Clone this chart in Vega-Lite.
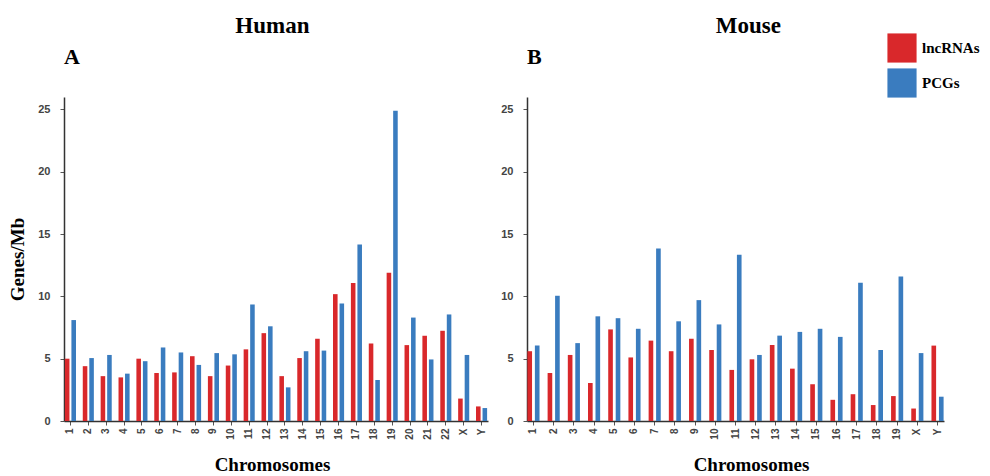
{
  "$schema": "https://vega.github.io/schema/vega-lite/v6.json",
  "padding": {"left": 8, "top": 15, "right": 0, "bottom": 0},
  "background": "white",
  "datasets": {
    "human": [
      {"chrom": "1", "type": "lncRNAs", "value": 5.0}, {"chrom": "1", "type": "PCGs", "value": 8.1},
      {"chrom": "2", "type": "lncRNAs", "value": 4.4}, {"chrom": "2", "type": "PCGs", "value": 5.05},
      {"chrom": "3", "type": "lncRNAs", "value": 3.6}, {"chrom": "3", "type": "PCGs", "value": 5.3},
      {"chrom": "4", "type": "lncRNAs", "value": 3.5}, {"chrom": "4", "type": "PCGs", "value": 3.8},
      {"chrom": "5", "type": "lncRNAs", "value": 5.0}, {"chrom": "5", "type": "PCGs", "value": 4.8},
      {"chrom": "6", "type": "lncRNAs", "value": 3.85}, {"chrom": "6", "type": "PCGs", "value": 5.9},
      {"chrom": "7", "type": "lncRNAs", "value": 3.9}, {"chrom": "7", "type": "PCGs", "value": 5.5},
      {"chrom": "8", "type": "lncRNAs", "value": 5.2}, {"chrom": "8", "type": "PCGs", "value": 4.5},
      {"chrom": "9", "type": "lncRNAs", "value": 3.6}, {"chrom": "9", "type": "PCGs", "value": 5.45},
      {"chrom": "10", "type": "lncRNAs", "value": 4.45}, {"chrom": "10", "type": "PCGs", "value": 5.35},
      {"chrom": "11", "type": "lncRNAs", "value": 5.75}, {"chrom": "11", "type": "PCGs", "value": 9.35},
      {"chrom": "12", "type": "lncRNAs", "value": 7.05}, {"chrom": "12", "type": "PCGs", "value": 7.6},
      {"chrom": "13", "type": "lncRNAs", "value": 3.6}, {"chrom": "13", "type": "PCGs", "value": 2.7},
      {"chrom": "14", "type": "lncRNAs", "value": 5.05}, {"chrom": "14", "type": "PCGs", "value": 5.6},
      {"chrom": "15", "type": "lncRNAs", "value": 6.6}, {"chrom": "15", "type": "PCGs", "value": 5.65},
      {"chrom": "16", "type": "lncRNAs", "value": 10.18}, {"chrom": "16", "type": "PCGs", "value": 9.43},
      {"chrom": "17", "type": "lncRNAs", "value": 11.08}, {"chrom": "17", "type": "PCGs", "value": 14.16},
      {"chrom": "18", "type": "lncRNAs", "value": 6.22}, {"chrom": "18", "type": "PCGs", "value": 3.29},
      {"chrom": "19", "type": "lncRNAs", "value": 11.9}, {"chrom": "19", "type": "PCGs", "value": 24.9},
      {"chrom": "20", "type": "lncRNAs", "value": 6.09}, {"chrom": "20", "type": "PCGs", "value": 8.3},
      {"chrom": "21", "type": "lncRNAs", "value": 6.84}, {"chrom": "21", "type": "PCGs", "value": 4.94},
      {"chrom": "22", "type": "lncRNAs", "value": 7.24}, {"chrom": "22", "type": "PCGs", "value": 8.55},
      {"chrom": "X", "type": "lncRNAs", "value": 1.8}, {"chrom": "X", "type": "PCGs", "value": 5.3},
      {"chrom": "Y", "type": "lncRNAs", "value": 1.17}, {"chrom": "Y", "type": "PCGs", "value": 1.04}
    ],
    "mouse": [
      {"chrom": "1", "type": "lncRNAs", "value": 5.6}, {"chrom": "1", "type": "PCGs", "value": 6.05},
      {"chrom": "2", "type": "lncRNAs", "value": 3.85}, {"chrom": "2", "type": "PCGs", "value": 10.05},
      {"chrom": "3", "type": "lncRNAs", "value": 5.3}, {"chrom": "3", "type": "PCGs", "value": 6.25},
      {"chrom": "4", "type": "lncRNAs", "value": 3.05}, {"chrom": "4", "type": "PCGs", "value": 8.4},
      {"chrom": "5", "type": "lncRNAs", "value": 7.35}, {"chrom": "5", "type": "PCGs", "value": 8.25},
      {"chrom": "6", "type": "lncRNAs", "value": 5.1}, {"chrom": "6", "type": "PCGs", "value": 7.4},
      {"chrom": "7", "type": "lncRNAs", "value": 6.45}, {"chrom": "7", "type": "PCGs", "value": 13.85},
      {"chrom": "8", "type": "lncRNAs", "value": 5.6}, {"chrom": "8", "type": "PCGs", "value": 8.0},
      {"chrom": "9", "type": "lncRNAs", "value": 6.6}, {"chrom": "9", "type": "PCGs", "value": 9.7},
      {"chrom": "10", "type": "lncRNAs", "value": 5.7}, {"chrom": "10", "type": "PCGs", "value": 7.75},
      {"chrom": "11", "type": "lncRNAs", "value": 4.1}, {"chrom": "11", "type": "PCGs", "value": 13.35},
      {"chrom": "12", "type": "lncRNAs", "value": 4.95}, {"chrom": "12", "type": "PCGs", "value": 5.3},
      {"chrom": "13", "type": "lncRNAs", "value": 6.1}, {"chrom": "13", "type": "PCGs", "value": 6.85},
      {"chrom": "14", "type": "lncRNAs", "value": 4.2}, {"chrom": "14", "type": "PCGs", "value": 7.15},
      {"chrom": "15", "type": "lncRNAs", "value": 2.95}, {"chrom": "15", "type": "PCGs", "value": 7.4},
      {"chrom": "16", "type": "lncRNAs", "value": 1.7}, {"chrom": "16", "type": "PCGs", "value": 6.75},
      {"chrom": "17", "type": "lncRNAs", "value": 2.15}, {"chrom": "17", "type": "PCGs", "value": 11.1},
      {"chrom": "18", "type": "lncRNAs", "value": 1.28}, {"chrom": "18", "type": "PCGs", "value": 5.7},
      {"chrom": "19", "type": "lncRNAs", "value": 2.0}, {"chrom": "19", "type": "PCGs", "value": 11.6},
      {"chrom": "X", "type": "lncRNAs", "value": 1.0}, {"chrom": "X", "type": "PCGs", "value": 5.45},
      {"chrom": "Y", "type": "lncRNAs", "value": 6.05}, {"chrom": "Y", "type": "PCGs", "value": 1.95}
    ]
  },
  "config": {
    "view": {"stroke": null},
    "axis": {
      "grid": false,
      "domainColor": "#333333",
      "domainWidth": 1.5,
      "tickColor": "#555555",
      "labelFont": "Liberation Sans",
      "labelFontWeight": "bold",
      "labelColor": "#444444",
      "titleFont": "Liberation Serif",
      "titleFontWeight": "bold",
      "titleFontSize": 19,
      "titleColor": "#000000"
    },
    "title": {"font": "Liberation Serif", "fontWeight": "bold", "fontSize": 23, "color": "#000000"},
    "concat": {"spacing": 12}
  },
  "resolve": {"scale": {"xOffset": "independent"}},
  "hconcat": [
    {
      "title": {"text": "Human", "anchor": "middle", "offset": 8, "dx": 24},
      "vconcat": [
        {
          "title": {"text": "A", "anchor": "start", "frame": "group", "offset": 28, "fontSize": 22},
          "width": 424,
          "height": 324,
          "data": {"name": "human"},
          "mark": {"type": "bar"},
          "encoding": {
            "x": {
              "field": "chrom", "type": "nominal",
              "sort": ["1","2","3","4","5","6","7","8","9","10","11","12","13","14","15","16","17","18","19","20","21","22","X","Y"],
              "scale": {"paddingInner": 0.38, "paddingOuter": 0.05},
              "axis": {"title": "Chromosomes", "labelAngle": -90, "labelFontSize": 10, "tickSize": 4, "labelPadding": 3, "titlePadding": 16, "titleX": 208}
            },
            "xOffset": {"field": "type", "sort": ["lncRNAs", "PCGs"], "scale": {"paddingInner": 0.3}},
            "y": {
              "field": "value", "type": "quantitative",
              "scale": {"domain": [0, 26], "nice": false},
              "axis": {"title": "Genes/Mb", "values": [0, 5, 10, 15, 20, 25], "labelFontSize": 11, "tickSize": 4, "labelPadding": 10, "titlePadding": 10}
            },
            "color": {
              "field": "type", "type": "nominal",
              "scale": {"domain": ["lncRNAs", "PCGs"], "range": ["#d9282b", "#3a7cbf"]},
              "legend": {
                "title": null, "orient": "none", "legendX": 823, "legendY": -64,
                "symbolType": "square", "symbolSize": 850, "symbolStrokeWidth": 0,
                "labelFont": "Liberation Serif", "labelFontWeight": "bold", "labelFontSize": 15, "labelColor": "#000000",
                "rowPadding": 5, "labelOffset": 5,
                "symbolOpacity": 1
              }
            }
          }
        }
      ]
    },
    {
      "title": {"text": "Mouse", "anchor": "middle", "offset": 8, "dx": 26},
      "vconcat": [
        {
          "title": {"text": "B", "anchor": "start", "frame": "group", "offset": 28, "fontSize": 22},
          "width": 417,
          "height": 324,
          "data": {"name": "mouse"},
          "mark": {"type": "bar"},
          "encoding": {
            "x": {
              "field": "chrom", "type": "nominal",
              "sort": ["1","2","3","4","5","6","7","8","9","10","11","12","13","14","15","16","17","18","19","X","Y"],
              "scale": {"paddingInner": 0.4, "paddingOuter": 0.02},
              "axis": {"title": "Chromosomes", "labelAngle": -90, "labelFontSize": 10, "tickSize": 4, "labelPadding": 3, "titlePadding": 16, "titleX": 224}
            },
            "xOffset": {"field": "type", "sort": ["lncRNAs", "PCGs"], "scale": {"paddingInner": 0.38}},
            "y": {
              "field": "value", "type": "quantitative",
              "scale": {"domain": [0, 26], "nice": false},
              "axis": {"title": null, "values": [0, 5, 10, 15, 20, 25], "labelFontSize": 11, "tickSize": 4, "labelPadding": 10}
            },
            "color": {
              "field": "type", "type": "nominal",
              "scale": {"domain": ["lncRNAs", "PCGs"], "range": ["#d9282b", "#3a7cbf"]}
            }
          }
        }
      ]
    }
  ]
}
